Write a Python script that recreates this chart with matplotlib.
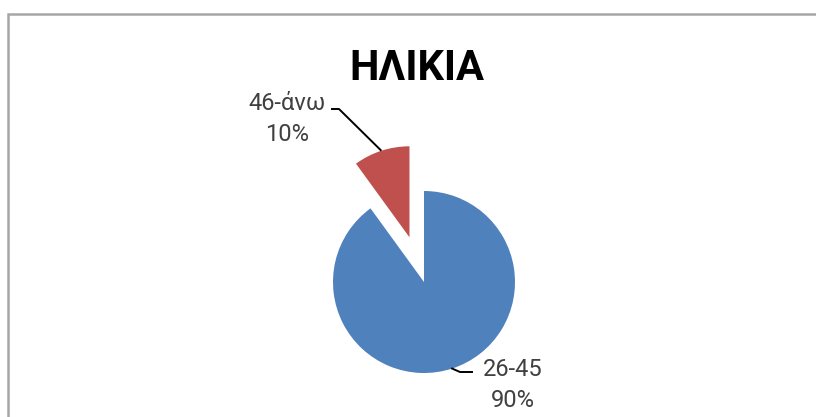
import numpy as np
import matplotlib
matplotlib.use('Agg')
import matplotlib.pyplot as plt

# age groups and their share
labels = ['46-άνω', '26-45']
values = [10, 90]
colors = ['#C0504D', '#4F81BD']
title = 'ΗΛΙΚΙΑ'

W, H = 816, 417

fig = plt.figure(figsize=(W / 100, H / 100), dpi=100)
ax = fig.add_axes([0, 0, 1, 1])

# pie centre / radius in pixel units (explode is absolute, not scaled by radius)
cx, cy, r = 424, 135, 91
wedges, _ = ax.pie(values, colors=colors, startangle=90, counterclock=True,
                   explode=[47, 0], radius=r, center=(cx, cy), frame=True,
                   wedgeprops=dict(linewidth=0))
ax.set_xlim(0, W)
ax.set_ylim(0, H)
ax.set_aspect('equal')
ax.axis('off')

def arc_mid(w):
    ang = np.deg2rad((w.theta1 + w.theta2) / 2)
    x0, y0 = w.center
    return x0 + w.r * np.cos(ang), y0 + w.r * np.sin(ang)

txt_kw = dict(fontfamily=['Roboto', 'DejaVu Sans'], color='#404040',
              fontsize=17, ha='center', va='center', linespacing=1.4)

# small slice label with leader line
mx, my = arc_mid(wedges[0])
ax.plot([331, 339, mx], [308, 308, my], color='black', lw=1.4,
        solid_capstyle='butt')
ax.text(287, 298, f'{labels[0]}\n{values[0]}%', **txt_kw)

# big slice label
mx, my = arc_mid(wedges[1])
ax.plot([mx, 460, 472], [my, 45, 45], color='black', lw=1.4)
ax.text(513, 32, f'{labels[1]}\n{values[1]}%', **txt_kw)

ax.text(417, 337, title, fontfamily=['Roboto', 'DejaVu Sans'],
        fontweight='bold', fontsize=30, ha='center', va='baseline',
        color='black')

# chart area border (left and top edges)
ax.plot([8, 8, W], [0, H - 14, H - 14], color='#a6a6a6', lw=1.8,
        solid_joinstyle='miter')

fig.savefig('out.png', dpi=100, facecolor='white')
